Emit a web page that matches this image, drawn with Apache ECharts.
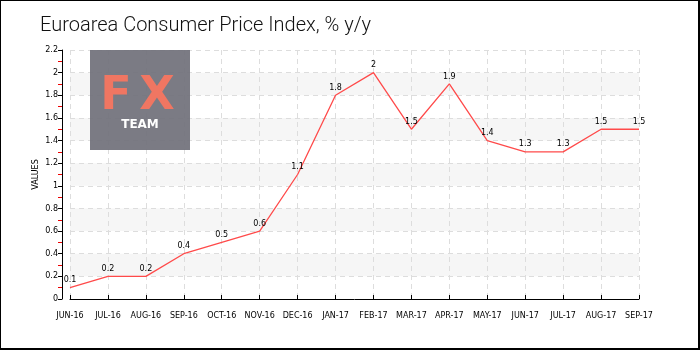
<!DOCTYPE html>
<html><head><meta charset="utf-8">
<script src="https://cdn.jsdelivr.net/npm/echarts@6/dist/echarts.min.js"></script>
<style>html,body{margin:0;padding:0;background:#fff}#c{width:700px;height:350px;box-sizing:border-box;border:1px solid #000;border-right-width:2px;border-bottom-width:2px}</style>
</head><body><div id="c"></div>
<script>
const titleText = 'Euroarea Consumer Price Index, % y/y';
const categories = ['JUN-16','JUL-16','AUG-16','SEP-16','OCT-16','NOV-16','DEC-16','JAN-17','FEB-17','MAR-17','APR-17','MAY-17','JUN-17','JUL-17','AUG-17','SEP-17'];
const values = [0.1,0.2,0.2,0.4,0.5,0.6,1.1,1.8,2.0,1.5,1.9,1.4,1.3,1.3,1.5,1.5];
const yTicks = {min:0, max:2.2, interval:0.2};
const fontF = 'DejaVu Sans';
const chart = echarts.init(document.getElementById('c'), null, {renderer:'canvas'});
chart.setOption({
  animation:false,
  title:{text:titleText,left:34,top:10,textStyle:{fontFamily:'Roboto',fontWeight:300,fontSize:20,color:'#111'}},
  grid:{left:69,right:59,top:49,bottom:49},
  graphic:[
    {type:'rect',x:89,y:49,shape:{width:100,height:100},style:{fill:'rgba(112,112,122,0.92)'},z:10},
    {type:'text',x:115,y:96,style:{text:'F',fill:'#f07662',font:'bold 46px "DejaVu Sans"',align:'center',verticalAlign:'middle'},z:11},
    {type:'text',x:156,y:96,style:{text:'X',fill:'#f07662',font:'bold 46px "DejaVu Sans"',align:'center',verticalAlign:'middle'},z:11},
    {type:'text',x:139,y:124,style:{text:'TEAM',fill:'#fff',font:'bold 12px "DejaVu Sans"',align:'center',verticalAlign:'middle'},z:11}
  ],
  xAxis:{type:'category',data:categories,boundaryGap:false,offset:8,
    axisLine:{lineStyle:{color:'#000',width:1}},
    axisTick:{inside:true,length:4,lineStyle:{color:'#000'}},
    axisLabel:{fontFamily:fontF,fontSize:8,color:'#000',margin:5,interval:0},
    splitLine:{show:true,lineStyle:{type:[5,4],color:'#ddd'}}},
  yAxis:{type:'value',min:yTicks.min,max:yTicks.max,interval:yTicks.interval,offset:8,
    name:'VALUES',nameLocation:'middle',nameGap:22,nameMoveOverlap:false,nameTextStyle:{fontFamily:fontF,fontSize:8,color:'#000'},
    axisLine:{show:true,lineStyle:{color:'#000'}},
    axisTick:{show:true,length:4,lineStyle:{color:'#000'}},
    minorTick:{show:true,splitNumber:2,length:4,lineStyle:{color:'#e00'}},
    axisLabel:{fontFamily:fontF,fontSize:8,color:'#000',margin:4,formatter:v=>String(+v.toFixed(1))},
    splitLine:{show:true,lineStyle:{type:[5,4],color:'#ddd'}},
    splitArea:{show:true,areaStyle:{color:['rgba(255,255,255,0)','#f6f6f6']}}},
  series:[{type:'line',data:values,symbol:'circle',symbolSize:1,showSymbol:true,
    itemStyle:{color:'rgba(0,0,0,0)'},
    lineStyle:{color:'#ff4a4a',width:1.3},
    label:{show:true,position:'top',distance:3,fontFamily:fontF,fontSize:8,color:'#000'}}]
});
</script></body></html>
